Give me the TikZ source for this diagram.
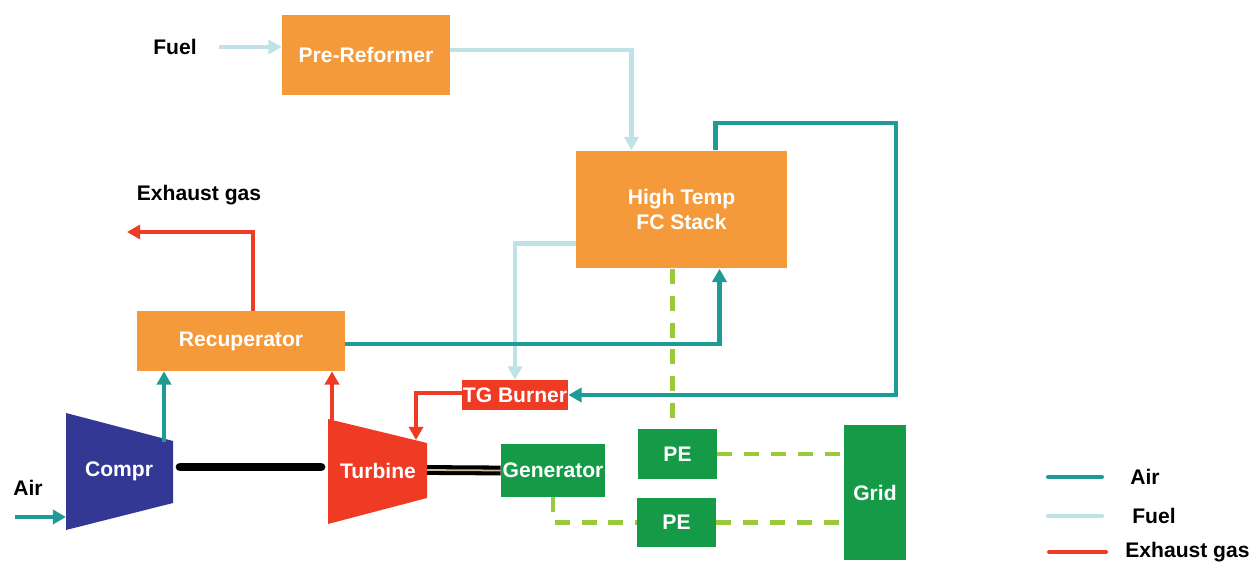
\documentclass[tikz,border=0pt]{standalone}
\usepackage{fontspec}
\setmainfont{Liberation Sans}
\usetikzlibrary{arrows.meta, positioning, calc}
\definecolor{boxorange}{RGB}{245,154,58}
\definecolor{boxred}{RGB}{239,59,36}
\definecolor{comprblue}{RGB}{51,56,148}
\definecolor{boxgreen}{RGB}{21,154,72}
\definecolor{elecgreen}{RGB}{154,202,60}
\definecolor{airteal}{RGB}{30,155,150}
\definecolor{fuelblue}{RGB}{190,226,230}
\definecolor{shaftinner}{RGB}{200,190,150}

\begin{document}
\begin{tikzpicture}[
    x=0.02cm, y=-0.02cm, >={Triangle[length=7.5pt,width=8pt]},
    box/.style={inner sep=0pt, text=white, align=center,
                font=\fontsize{12}{14.5}\selectfont\bfseries},
    lbl/.style={inner sep=0pt, font=\fontsize{12}{14.5}\selectfont\bfseries},
    air/.style={draw=airteal, line width=2.3pt},
    fuel/.style={draw=fuelblue, line width=2.4pt},
    exhaust/.style={draw=boxred, line width=2.3pt},
    elec/.style={draw=elecgreen, line width=2.3pt,
                 dash pattern=on 8.5pt off 6.8pt}
  ]
  \useasboundingbox (0,0) rectangle (1250,563);

  % units
  \node[box, fill=boxorange, minimum width=3.36cm, minimum height=1.6cm]
    (prer) at (366,55) {Pre-Reformer};
  \node[box, fill=boxorange, minimum width=4.22cm, minimum height=2.36cm]
    (fc) at (681.5,209.5) {High Temp\\FC Stack};
  \node[box, fill=boxorange, minimum width=4.16cm, minimum height=1.2cm]
    (recup) at (241,341) {Recuperator};
  \node[box, fill=boxred, minimum width=2.12cm, minimum height=0.6cm]
    (burner) at (515,395) {TG Burner};
  \node[box, fill=boxgreen, minimum width=2.08cm, minimum height=1.06cm]
    (gen) at (553,470.5) {Generator};
  \node[box, fill=boxgreen, minimum width=1.58cm, minimum height=1.0cm]
    (pe1) at (677.5,454) {PE};
  \node[box, fill=boxgreen, minimum width=1.58cm, minimum height=0.98cm]
    (pe2) at (676.5,522.5) {PE};
  \node[box, fill=boxgreen, minimum width=1.24cm, minimum height=2.7cm]
    (grid) at (875,492.5) {Grid};

  % compressor and turbine
  \fill[comprblue] (66,413) -- (173,441) -- (173,503) -- (66,530) -- cycle;
  \node[box] (compr) at (119,471) {Compr};
  \fill[boxred] (328,419) -- (427,443) -- (427,498) -- (328,524) -- cycle;
  \node[box] (turb) at (378,471) {Turbine};

  \coordinate (comprin) at (66,517);
  \coordinate (comprout) at (164,442);
  \coordinate (comprshaft) at (173,467);
  \coordinate (turbshaft) at (328,467);
  \coordinate (turbout) at (332,420);
  \coordinate (turbin) at (416,440);
  \coordinate (turbgen) at (427,470);
  \coordinate (airin) at (15,517);
  \coordinate (exout) at (127,232);
  \coordinate (loop) at (896,123);
  \coordinate (pe1top) at ($(pe1.north)+(-5,0)$);

  % outside labels
  \node[lbl] (fuelin) at (175,47) {Fuel};
  \node[lbl] (airlbl) at (28,488) {Air};
  \node[lbl] (exlbl) at (199,195) {Exhaust gas};

  % fuel
  \draw[fuel, ->, shorten <=0.44cm] (fuelin.east) -- (fuelin.east -| prer.west);
  \draw[fuel, ->] ($(prer.east)+(0,-5)$) -| ($(fc.north)+(-50,0)$);
  \draw[fuel, ->] ($(fc.west)+(0,34)$) -| (burner.north);

  % air
  \draw[air, ->] (airin) -- (comprin);
  \draw[air, ->] (comprout) -- (comprout |- recup.south);
  \draw[air, ->] ($(recup.east)+(0,3)$) -| ($(fc.south)+(38,0)$);
  \draw[air, ->] ($(fc.north)+(34,0)$) |- (loop) |- (burner.east);

  % exhaust
  \draw[exhaust, ->] (turbout) -- (turbout |- recup.south);
  \draw[exhaust, ->] ($(burner.west)+(0,-2)$) -| (turbin);
  \draw[exhaust, ->] ($(recup.north)+(12,0)$) |- (exout);

  % shafts
  \draw[line width=5pt, line cap=round, shorten <=4pt, shorten >=4pt]
    (comprshaft) -- (turbshaft);
  \draw[line width=2.3pt, double=shaftinner, double distance=1pt]
    (turbgen) -- (gen.west);

  % electrical
  \draw[elec] (pe1top |- fc.south) -- (pe1top);
  \draw[elec] (pe1.east) -- (pe1.east -| grid.west);
  \draw[elec] (pe2.east) -- (pe2.east -| grid.west);
  \draw[elec] (gen.south) |- (pe2.west);

  % legend
  \coordinate (legair) at (1102,477);
  \coordinate (legfuel) at (1102,516);
  \coordinate (legex) at (1106,552);
  \draw[air, line cap=round] (1048,477) -- (legair);
  \draw[fuel, line cap=round] (1048,516) -- (legfuel);
  \draw[exhaust, line cap=round] (1049,552) -- (legex);
  \node[lbl, right=0.56cm of legair] (legairtxt) {Air};
  \node[lbl, right=0.6cm of legfuel] (legfueltxt) {Fuel};
  \node[lbl, right=0.38cm of legex] (legextxt) {Exhaust gas};
\end{tikzpicture}
\end{document}
